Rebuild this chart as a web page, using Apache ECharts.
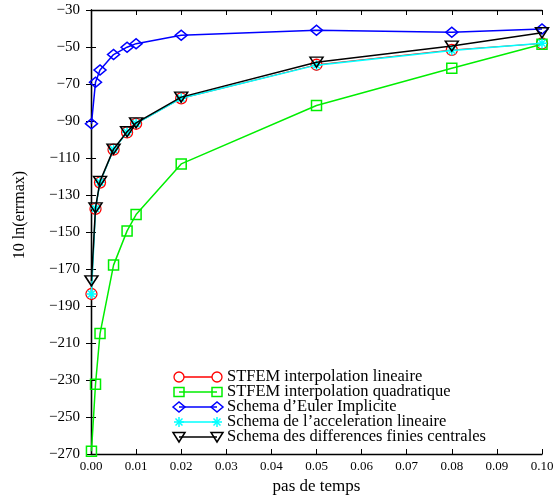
<!DOCTYPE html>
<html>
<head>
<meta charset="utf-8">
<script src="https://cdn.jsdelivr.net/npm/echarts@6/dist/echarts.min.js"></script>
<style>
html,body{margin:0;padding:0;background:#fff;}
#chart{width:557px;height:500px;}
</style>
</head>
<body>
<div id="chart"></div>
<script>
const xValues = [0.0001, 0.001, 0.002, 0.005, 0.008, 0.01, 0.02, 0.05, 0.08, 0.1];
const stfemLin = [-183.5, -137.5, -123.3, -105.5, -96.2, -91.5, -77.8, -59.6, -51.6, -48.1];
const stfemQuad = [-268.5, -232.3, -204.9, -167.9, -149.4, -140.6, -113.2, -81.6, -61.5, -48.5];
const euler = [-91.5, -69.1, -62.4, -54.1, -50.1, -48.2, -43.6, -40.9, -42.0, -40.3];
const accelLin = [-183.5, -137.3, -123.1, -105.4, -96.1, -91.4, -77.7, -59.8, -51.9, -48.0];
const diffFinies = [-176.4, -137.0, -122.6, -105.2, -95.8, -91.0, -77.1, -58.2, -49.5, -42.3];
const seriesNames = [
  'STFEM interpolation lineaire',
  'STFEM interpolation quadratique',
  'Schema d\u2019Euler Implicite',
  'Schema de l\u2019acceleration lineaire',
  'Schema des differences finies centrales'
];
const xAxisName = 'pas de temps';
const yAxisName = '10 ln(errmax)';

const FONT = 'Liberation Serif';
const starPath = 'path://M-10,-1.5L10,-1.5L10,1.5L-10,1.5Z M-1.5,-10L1.5,-10L1.5,10L-1.5,10Z M-6.01,-8.13L8.13,6.01L6.01,8.13L-8.13,-6.01Z M-8.13,6.01L6.01,-8.13L8.13,-6.01L-6.01,8.13Z';

function pairs(ys){ return xValues.map((x,i)=>[x, ys[i]]); }

const styles = [
  {data: stfemLin, color:'#ff0000', symbol:'circle', size:11, width:1, rot:0, bw:1.3},
  {data: stfemQuad, color:'#00ee00', symbol:'rect', size:10, width:1.5, rot:0, bw:1.5},
  {data: euler, color:'#0000ff', symbol:'diamond', size:[12,10], width:1.5, rot:0, bw:1.5},
  {data: accelLin, color:'#00ffff', symbol:starPath, size:10, width:1.5, rot:0, fill:true},
  {data: diffFinies, color:'#000000', symbol:'triangle', size:[13,10], width:1.5, rot:180, bw:1.5}
];

const series = styles.map((s, i) => ({
  name: seriesNames[i],
  type: 'line',
  data: pairs(s.data),
  symbol: s.symbol,
  symbolSize: s.size,
  symbolRotate: s.rot,
  showAllSymbol: true,
  lineStyle: {color: s.color, width: s.width},
  itemStyle: s.fill ? {color: s.color, borderWidth: 0} :
    {color: 'rgba(0,0,0,0)', borderColor: s.color, borderWidth: s.bw},
  emphasis: {disabled: true},
  animation: false,
  z: 2 + i
}));

// legend drawn with graphic elements
const legX1 = 179, legX2 = 217, legText = 227, legY0 = 377, legDy = 15;
const graphics = [];
function legendSymbol(i, cx, cy) {
  const c = styles[i].color;
  if (i === 0) return {type:'circle', shape:{cx, cy, r:5}, style:{fill:'#fff', stroke:c, lineWidth:1.3}, z:100};
  if (i === 1) return {type:'rect', shape:{x:cx-5, y:cy-4.5, width:10, height:9}, style:{fill:'none', stroke:c, lineWidth:1.5}, z:100};
  if (i === 2) return {type:'polygon', shape:{points:[[cx-6,cy],[cx,cy-5],[cx+6,cy],[cx,cy+5]]}, style:{fill:'none', stroke:c, lineWidth:1.5}, z:100};
  if (i === 3) return {type:'group', z:100, children:[
    {type:'line', shape:{x1:cx-5, y1:cy, x2:cx+5, y2:cy}, style:{stroke:c, lineWidth:1.5}},
    {type:'line', shape:{x1:cx, y1:cy-5, x2:cx, y2:cy+5}, style:{stroke:c, lineWidth:1.5}},
    {type:'line', shape:{x1:cx-3.5, y1:cy-3.5, x2:cx+3.5, y2:cy+3.5}, style:{stroke:c, lineWidth:1.5}},
    {type:'line', shape:{x1:cx-3.5, y1:cy+3.5, x2:cx+3.5, y2:cy-3.5}, style:{stroke:c, lineWidth:1.5}}
  ]};
  return {type:'polygon', shape:{points:[[cx-6,cy-4.5],[cx+6,cy-4.5],[cx,cy+5]]}, style:{fill:'none', stroke:c, lineWidth:1.5}, z:100};
}
seriesNames.forEach((nm, i) => {
  const y = legY0 + i*legDy;
  graphics.push({type:'line', shape:{x1:legX1, y1:y, x2:legX2, y2:y}, style:{stroke:styles[i].color, lineWidth:1.3}, z:99});
  graphics.push(legendSymbol(i, legX1, y));
  graphics.push(legendSymbol(i, legX2, y));
  graphics.push({type:'text', x:legText, y:y, style:{text:nm, font:'16.5px "' + FONT + '"', fill:'#000', textVerticalAlign:'middle', textAlign:'left'}, z:100});
});
graphics.push({type:'text', x:20, y:215, rotation:Math.PI/2,
  style:{text:yAxisName, font:'16px "' + FONT + '"', fill:'#000', textAlign:'center', textVerticalAlign:'middle'}});

const minus = v => (v < 0 ? '\u2212' : '') + Math.abs(v);

const option = {
  animation: false,
  backgroundColor: '#ffffff',
  grid: {left: 91, right: 15, top: 10, bottom: 42, containLabel: false},
  xAxis: [{
    type: 'value', min: 0, max: 0.1, interval: 0.01, position: 'bottom',
    name: xAxisName, nameLocation: 'middle', nameGap: 24,
    nameTextStyle: {fontFamily: FONT, fontSize: 17, color: '#000'},
    axisLine: {show: true, lineStyle: {color: '#000', width: 1.3}},
    axisTick: {show: true, inside: true, length: 5, lineStyle: {color: '#000'}},
    axisLabel: {fontFamily: FONT, fontSize: 13, color: '#000', margin: 6, formatter: v => v.toFixed(2)},
    splitLine: {show: false}
  }, {
    type: 'value', min: 0, max: 0.1, interval: 0.01, position: 'top',
    axisLine: {show: true, lineStyle: {color: '#000', width: 1.3}},
    axisTick: {show: true, inside: true, length: 5, lineStyle: {color: '#000'}},
    axisLabel: {show: false}, splitLine: {show: false}
  }],
  yAxis: [{
    type: 'value', min: -270, max: -30, interval: 20, position: 'left',
    axisLine: {show: true, lineStyle: {color: '#000', width: 1.3}},
    axisTick: {show: true, inside: true, length: 5, lineStyle: {color: '#000'}},
    axisLabel: {fontFamily: FONT, fontSize: 15, color: '#000', margin: 11, formatter: minus},
    splitLine: {show: false}
  }, {
    type: 'value', min: -270, max: -30, interval: 20, position: 'right',
    axisLine: {show: true, lineStyle: {color: '#000', width: 1.3}},
    axisTick: {show: true, inside: true, length: 5, lineStyle: {color: '#000'}},
    axisLabel: {show: false}, splitLine: {show: false}
  }],
  series: series,
  graphic: graphics
};

const chart = echarts.init(document.getElementById('chart'), null, {renderer: 'canvas'});
chart.setOption(option);
</script>
</body>
</html>
